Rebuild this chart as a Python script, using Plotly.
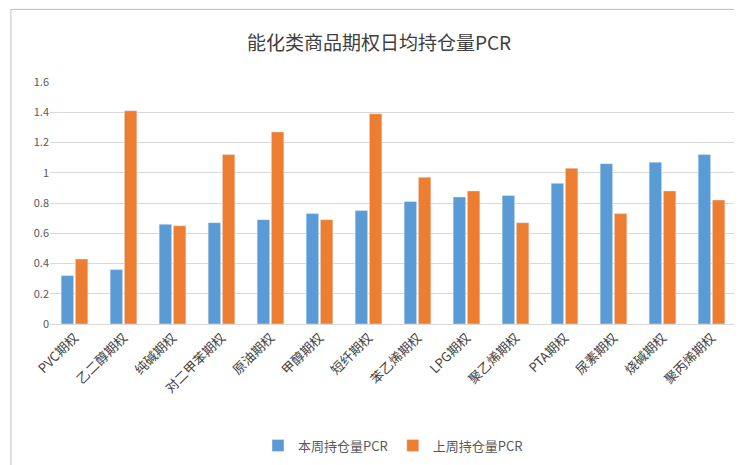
import plotly.graph_objects as go

categories = ["PVC期权","乙二醇期权","纯碱期权","对二甲苯期权","原油期权","甲醇期权","短纤期权",
              "苯乙烯期权","LPG期权","聚乙烯期权","PTA期权","尿素期权","烧碱期权","聚丙烯期权"]
this_week = [0.32,0.36,0.66,0.67,0.69,0.73,0.75,0.81,0.84,0.85,0.93,1.06,1.07,1.12]
last_week = [0.43,1.41,0.65,1.12,1.27,0.69,1.39,0.97,0.88,0.67,1.03,0.73,0.88,0.82]
tick_vals = [0,0.2,0.4,0.6,0.8,1,1.2,1.4,1.6]
tick_text = ["0","0.2","0.4","0.6","0.8","1","1.2","1.4","1.6"]

fig = go.Figure()
fig.add_bar(x=categories, y=this_week, name="本周持仓量PCR", marker_color="#5B9BD5")
fig.add_bar(x=categories, y=last_week, name="上周持仓量PCR", marker_color="#ED7D31")
fig.update_layout(
    width=742, height=465, paper_bgcolor="white", plot_bgcolor="white",
    font=dict(family="Noto Sans CJK SC", color="#595959", size=11),
    title=dict(text="能化类商品期权日均持仓量PCR", x=0.5, y=0.925, xanchor="center", yanchor="middle",
               font=dict(size=19, color="#404040")),
    margin=dict(l=42, r=14, t=74, b=149),
    barmode="group", bargap=0.42, bargroupgap=0.12,
    legend=dict(orientation="h", x=0.5, xanchor="center", y=-0.44, yanchor="top",
                font=dict(size=13, color="#595959")),
    yaxis=dict(range=[0,1.6], tickvals=tick_vals, ticktext=tick_text, gridcolor="#D9D9D9",
               zeroline=False, showline=False),
    xaxis=dict(tickangle=-45, tickfont=dict(size=13, color="#404040"), showline=True,
               linecolor="#D9D9D9"),
    shapes=[dict(type="rect", xref="paper", yref="paper", x0=-0.057, x1=1.018, y0=-0.6, y1=1.3,
                 line=dict(color="#BFBFBF", width=1))],
)
fig.write_html("out.html")
